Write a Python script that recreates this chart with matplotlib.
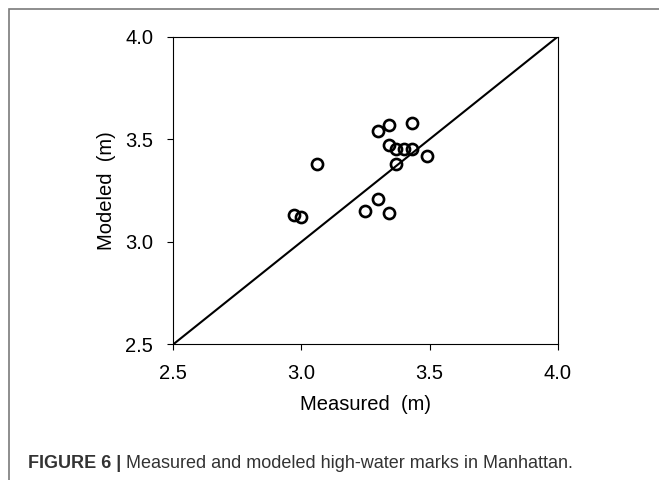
import matplotlib
matplotlib.use("Agg")
import matplotlib.pyplot as plt
from matplotlib.patches import Rectangle

plt.rcParams['font.family'] = ['Liberation Sans', 'DejaVu Sans']

measured = [3.06, 2.97, 3.00, 3.25, 3.30, 3.34, 3.30, 3.34, 3.43, 3.34, 3.37, 3.40, 3.43, 3.49, 3.37]
modeled  = [3.38, 3.13, 3.12, 3.15, 3.21, 3.14, 3.54, 3.57, 3.58, 3.47, 3.45, 3.45, 3.45, 3.42, 3.38]
ticks = [2.5, 3.0, 3.5, 4.0]
tick_labels = ["2.5", "3.0", "3.5", "4.0"]
caption_bold = "FIGURE 6 |"
caption_text = " Measured and modeled high-water marks in Manhattan."

fig = plt.figure(figsize=(6.59, 4.80), dpi=100)
ax = fig.add_axes([173.3/659, 1-344.3/480, (557.7-173.3)/659, (344.3-36.7)/480])

ax.plot([2.5, 4.0], [2.5, 4.0], color='black', lw=1.5, zorder=2)
ax.plot(measured, modeled, linestyle='none', marker='o', ms=8, mew=1.9,
        mfc='none', mec='black', zorder=3, clip_on=False)

ax.set_xlim(2.5, 4.0)
ax.set_ylim(2.5, 4.0)
ax.set_xticks(ticks)
ax.set_xticklabels(tick_labels)
ax.set_yticks(ticks)
ax.set_yticklabels(tick_labels)
ax.tick_params(direction='out', length=4.5, width=0.8, labelsize=14.5, pad=10, colors='black')
for s in ax.spines.values():
    s.set_linewidth(0.8)
    s.set_color('black')
ax.set_xlabel("Measured  (m)", fontsize=14.5, va='center')
ax.set_ylabel("Modeled  (m)", fontsize=14.5, va='center')
ax.xaxis.set_label_coords(0.5, (344.3-405)/307.6)
ax.yaxis.set_label_coords((107-173.3)/384.4, 0.5)

# border frame
fig.add_artist(Rectangle((9/659, -0.2), 1.2, 1 - 9/480 + 0.2, transform=fig.transFigure,
                         fill=False, edgecolor='#7a7a7a', lw=1.2))

t1 = fig.text(28/659, 1-463/480, caption_bold, fontsize=13, fontweight='bold',
              color='#333333', va='center', ha='left')
fig.canvas.draw()
bb = t1.get_window_extent()
fig.text(bb.x1/659, 1-463/480, caption_text, fontsize=13,
         color='#333333', va='center', ha='left')

fig.savefig("out.png", dpi=100)
